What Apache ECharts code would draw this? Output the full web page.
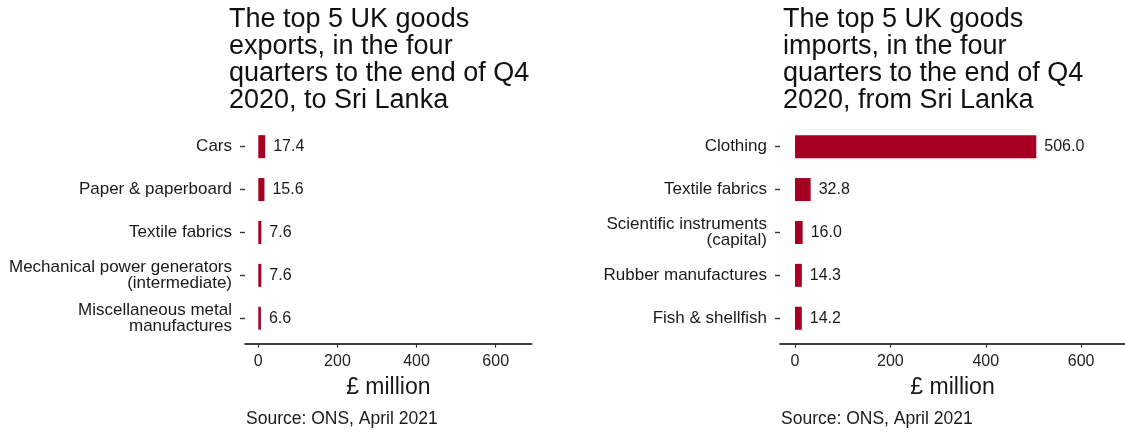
<!DOCTYPE html>
<html>
<head>
<meta charset="utf-8">
<script src="https://cdn.jsdelivr.net/npm/echarts@6/dist/echarts.min.js"></script>
<style>
html,body{margin:0;padding:0;background:#fff;}
#chart{width:1125px;height:435px;}
</style>
</head>
<body>
<div id="chart"></div>
<script>
const exportCategories = ['Cars', 'Paper & paperboard', 'Textile fabrics', 'Mechanical power generators\n(intermediate)', 'Miscellaneous metal\nmanufactures'];
const exportValues = [17.4, 15.6, 7.6, 7.6, 6.6];
const importCategories = ['Clothing', 'Textile fabrics', 'Scientific instruments\n(capital)', 'Rubber manufactures', 'Fish & shellfish'];
const importValues = [506.0, 32.8, 16.0, 14.3, 14.2];
const xTickValues = [0, 200, 400, 600];
const exportTitle = 'The top 5 UK goods\nexports, in the four\nquarters to the end of Q4\n2020, to Sri Lanka';
const importTitle = 'The top 5 UK goods\nimports, in the four\nquarters to the end of Q4\n2020, from Sri Lanka';
const axisName = '£ million';
const sourceText = 'Source: ONS, April 2021';

const FONT = 'Liberation Sans, Arial, Helvetica, sans-serif';
const TEXT = '#1a1a1a';
const BAR = '#A50021';

const chart = echarts.init(document.getElementById('chart'));

function xAxisFor(gridIndex, min, max) {
  return {
    type: 'value', gridIndex: gridIndex, min: min, max: max, offset: 4,
    splitLine: {show: false},
    axisLine: {show: true, onZero: false, lineStyle: {color: '#000', width: 1.6}},
    axisTick: {show: true, length: 4, customValues: xTickValues, lineStyle: {color: '#333', width: 1.2}},
    axisLabel: {customValues: xTickValues, margin: 10, fontSize: 16, color: '#222', fontFamily: FONT},
    name: axisName, nameLocation: 'middle', nameGap: 32,
    nameTextStyle: {fontSize: 23, color: TEXT, fontFamily: FONT}
  };
}
function yAxisFor(gridIndex, cats) {
  return {
    type: 'category', gridIndex: gridIndex, data: cats, inverse: true, offset: 0,
    axisLine: {show: false, onZero: false},
    axisTick: {show: true, length: 5, alignWithLabel: true, lineStyle: {color: '#333', width: 1.4}},
    axisLabel: {margin: 13, fontSize: 17, lineHeight: 15.5, color: TEXT, fontFamily: FONT, align: 'right'}
  };
}
function barSeries(idx, values) {
  return {
    type: 'bar', xAxisIndex: idx, yAxisIndex: idx, data: values, barWidth: 23,
    itemStyle: {color: BAR},
    label: {show: true, position: 'right', distance: 8, fontSize: 16, color: TEXT, fontFamily: FONT,
      formatter: p => Number(p.value).toFixed(1)}
  };
}

const titleStyle = {fontSize: 27, lineHeight: 27, fontWeight: 'normal', color: '#111', fontFamily: FONT};
const sourceStyle = {fontSize: 17.5, fontWeight: 'normal', color: TEXT, fontFamily: FONT};

chart.setOption({
  animation: false,
  backgroundColor: '#fff',
  title: [
    {text: exportTitle, left: 229, top: 6, padding: 0, textStyle: titleStyle},
    {text: importTitle, left: 783, top: 6, padding: 0, textStyle: titleStyle},
    {text: sourceText, left: 246, top: 410, padding: 0, textStyle: sourceStyle},
    {text: sourceText, left: 781, top: 410, padding: 0, textStyle: sourceStyle}
  ],
  grid: [
    {left: 245, width: 286.7, top: 125.2, bottom: 95.3, containLabel: false},
    {left: 780, right: 0, top: 125.2, bottom: 95.3, containLabel: false}
  ],
  xAxis: [xAxisFor(0, -33.6, 691), xAxisFor(1, -31.5, 692)],
  yAxis: [yAxisFor(0, exportCategories), yAxisFor(1, importCategories)],
  series: [barSeries(0, exportValues), barSeries(1, importValues)]
});
</script>
</body>
</html>
